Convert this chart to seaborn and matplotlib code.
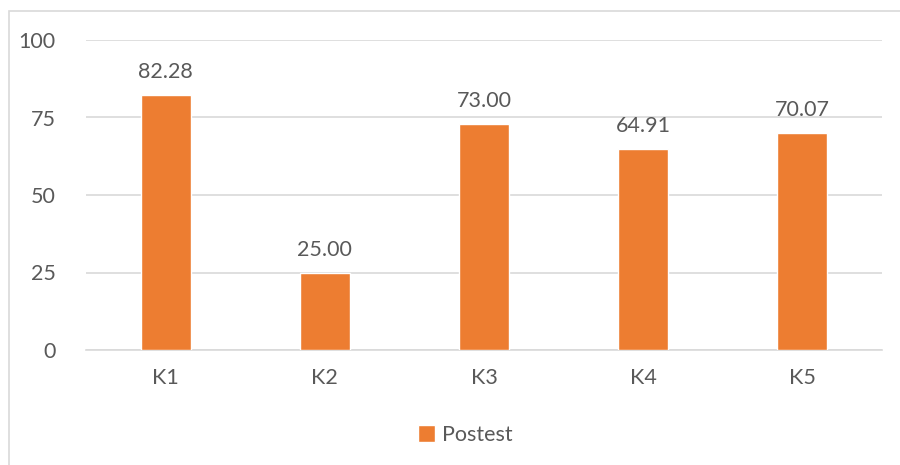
import matplotlib
matplotlib.use("Agg")
import matplotlib.pyplot as plt
from matplotlib.patches import Rectangle
import seaborn as sns
import pandas as pd

categories = ["K1", "K2", "K3", "K4", "K5"]
postest = [82.28, 25.00, 73.00, 64.91, 70.07]
y_ticks = [0, 25, 50, 75, 100]
series_name = "Postest"

bar_color = "#ED7D31"
text_color = "#595959"
grid_color = "#D9D9D9"
font_size = 15.5

sns.set_theme(style="white")
plt.rcParams["font.family"] = ["Lato", "DejaVu Sans"]

df = pd.DataFrame({"category": categories, "value": postest})

fig = plt.figure(figsize=(9, 4.65), dpi=100)
ax = fig.add_axes([86 / 900, 1 - 350 / 465, (882 - 86) / 900, (350 - 40) / 465])

sns.barplot(data=df, x="category", y="value", color=bar_color, width=0.315,
            saturation=1, ax=ax, label=series_name, zorder=3)

ax.set_ylim(0, 100)
ax.set_xlim(-0.5, len(categories) - 0.5)
ax.set_yticks(y_ticks)
ax.set_yticklabels([str(t) for t in y_ticks])
ax.grid(axis="y", color=grid_color, linewidth=1.2, zorder=0)
ax.set_axisbelow(True)
for s in ["top", "right", "left"]:
    ax.spines[s].set_visible(False)
ax.spines["bottom"].set_color(grid_color)
ax.spines["bottom"].set_linewidth(1.2)
ax.tick_params(axis="both", length=0, labelsize=font_size, colors=text_color)
ax.tick_params(axis="y", pad=22)
ax.tick_params(axis="x", pad=13)
ax.set_xlabel("")
ax.set_ylabel("")

for container in ax.containers:
    ax.bar_label(container, labels=[f"{v:.2f}" for v in postest], padding=9,
                 fontsize=font_size, color=text_color)

leg = ax.legend(loc="center", bbox_to_anchor=(465 / 900, 1 - 435 / 465), bbox_transform=fig.transFigure,
                frameon=False, fontsize=font_size, handlelength=0.8, handleheight=0.8,
                handletextpad=0.3, labelcolor=text_color)

# chart-area border
fig.patches.append(Rectangle((9 / 900, -0.1), 1.2, 1 - 11 / 465 + 0.1, transform=fig.transFigure,
                             fill=False, edgecolor="#D9D9D9", linewidth=1.2))

fig.savefig("out.png", dpi=100, facecolor="white")
